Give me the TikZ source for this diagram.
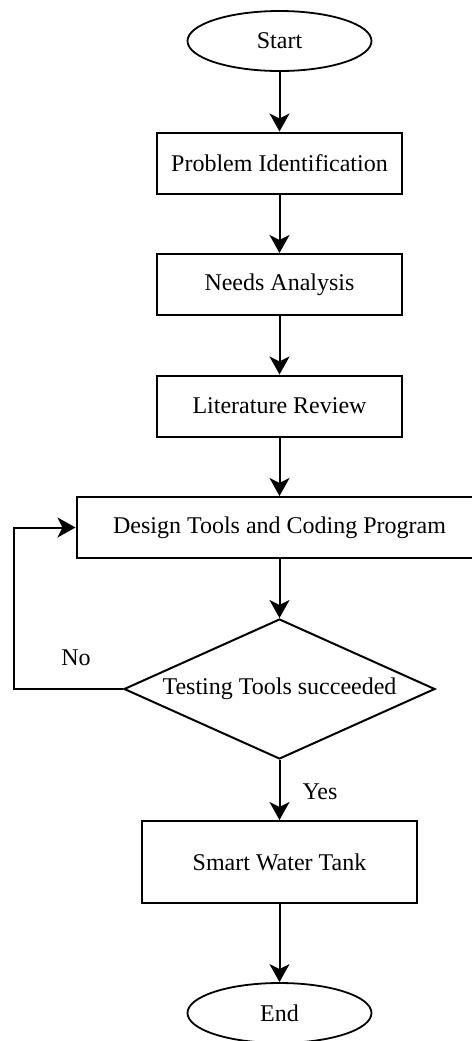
\documentclass[tikz,border=0pt]{standalone}
\usepackage{fontspec}
\setmainfont{Liberation Serif}
\usetikzlibrary{shapes.geometric,arrows.meta}
\begin{document}
\begin{tikzpicture}[
   x=0.5pt, y=-0.5pt,
   every node/.style={draw, line width=1pt, font=\fontsize{12}{14}\selectfont},
   terminal/.style={ellipse, minimum width=92pt, minimum height=30pt, inner sep=0pt, line width=0.9pt},
   stepbox/.style={rectangle, minimum width=122.5pt, minimum height=30.5pt},
   decision/.style={diamond, aspect=2.22, minimum width=155.5pt, minimum height=70pt, inner sep=0pt},
   flow/.style={draw, line width=1pt, -{Stealth[length=9pt,width=10pt,inset=2.5pt]}},
   tag/.style={draw=none}]

\useasboundingbox (0,0) rectangle (472,1041);

\node[terminal] (start) at (279.5,41) {Start};
\node[stepbox] (problem) at (279.5,163) {Problem Identification};
\node[stepbox] (needs) at (279.5,284.5) {Needs Analysis};
\node[stepbox] (review) at (279.5,406) {Literature Review};
\node[stepbox, minimum width=203pt] (design) at (279.5,527.5) {Design Tools and Coding Program};
\node[decision] (test) at (279.5,689) {Testing Tools succeeded};
\node[stepbox, minimum width=137.5pt, minimum height=41pt] (tank) at (279.5,862) {Smart Water Tank};
\node[terminal] (stop) at (279.5,1013) {End};

\node[tag] (no) at (76,658) {No};
\node[tag] (yes) at (320,792) {Yes};

\path[flow] (start) -- (problem);
\path[flow] (problem) -- (needs);
\path[flow] (needs) -- (review);
\path[flow] (review) -- (design);
\path[flow] (design) -- (test);
\path[flow] (test) -- (tank);
\path[flow] (tank) -- (stop);
\path[flow] (test.west) -- ++(-109,0) |- (design.west);

\end{tikzpicture}
\end{document}
